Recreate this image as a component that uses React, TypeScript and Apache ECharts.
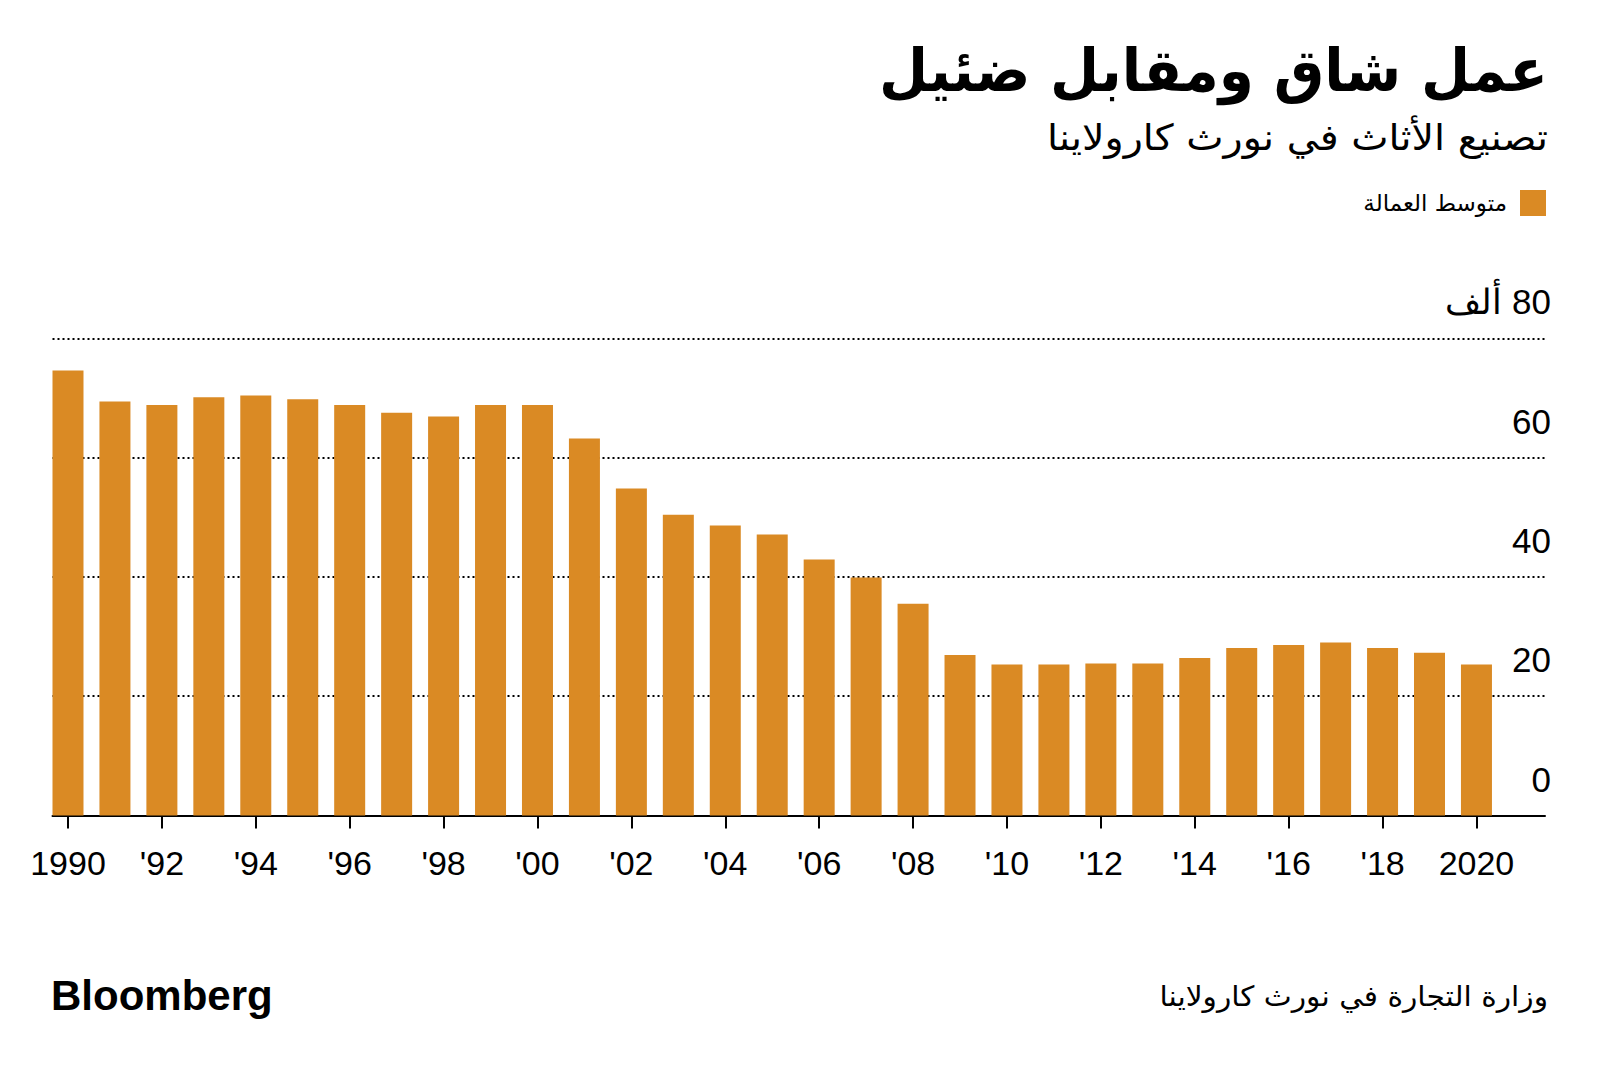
import React, { useEffect, useRef } from "react";
import * as echarts from "echarts";

const years = [
  1990, 1991, 1992, 1993, 1994, 1995, 1996, 1997, 1998, 1999, 2000, 2001, 2002, 2003, 2004, 2005,
  2006, 2007, 2008, 2009, 2010, 2011, 2012, 2013, 2014, 2015, 2016, 2017, 2018, 2019, 2020,
];
const employment = [
  74.6, 69.4, 68.8, 70.1, 70.4, 69.8, 68.8, 67.5, 66.9, 68.8, 68.8, 63.2, 54.8, 50.4, 48.6, 47.1,
  42.9, 39.9, 35.5, 26.9, 25.3, 25.3, 25.5, 25.5, 26.4, 28.1, 28.6, 29.0, 28.1, 27.3, 25.3,
];
const xTickYears = [1990, 1992, 1994, 1996, 1998, 2000, 2002, 2004, 2006, 2008, 2010, 2012, 2014, 2016, 2018, 2020];
const yMax = 80;
const yStep = 20;

const titleText = "عمل شاق ومقابل ضئيل";
const subtitleText = "تصنيع الأثاث في نورث كارولاينا";
const legendLabel = "متوسط العمالة";
const sourceText = "وزارة التجارة في نورث كارولاينا";
const unitLabel = "ألف";
const brandText = "Bloomberg";

const BAR = "#DA8A24";
const ARABIC = "'DejaVu Sans', 'Noto Sans', sans-serif";
const LATIN = "'Liberation Sans', Arial, sans-serif";

export default function App() {
  const ref = useRef<HTMLDivElement>(null);

  useEffect(() => {
    document.body.style.margin = "0";
    const chart = echarts.init(ref.current!, null, { renderer: "svg" });
    const option = {
      animation: false,
      backgroundColor: "#ffffff",
      graphic: [
        {
          type: "text",
          x: 1548,
          y: 70.5,
          scaleX: 0.976,
          scaleY: 1.02,
          style: {
            text: titleText,
            fill: "#000",
            font: `bold 58px ${ARABIC}`,
            textAlign: "right",
            textVerticalAlign: "middle",
          },
        },
        {
          type: "text",
          x: 1548,
          y: 138,
          scaleX: 1.1,
          style: {
            text: subtitleText,
            fill: "#000",
            font: `normal 36px ${ARABIC}`,
            textAlign: "right",
            textVerticalAlign: "middle",
          },
        },
        {
          type: "text",
          x: 1548,
          y: 996,
          scaleX: 1.06,
          style: {
            text: sourceText,
            fill: "#000",
            font: `normal 28px ${ARABIC}`,
            textAlign: "right",
            textVerticalAlign: "middle",
          },
        },
      ],
      title: [
        {
          text: brandText,
          left: 51,
          top: 974,
          padding: 0,
          textStyle: { fontFamily: LATIN, fontWeight: "bold", fontSize: 42, color: "#000" },
        },
      ],
      legend: {
        data: [legendLabel],
        right: 54,
        top: 190,
        padding: 0,
        align: "right",
        icon: "rect",
        itemWidth: 26,
        itemHeight: 26,
        textStyle: { fontFamily: ARABIC, fontSize: 23, color: "#000", padding: [0, 8, 0, 0] },
      },
      grid: { left: 52.5, right: 55, top: 338.3, bottom: 258.5, containLabel: false },
      xAxis: {
        type: "value",
        min: 1989.67,
        max: 2021.46,
        axisLine: { show: true, lineStyle: { color: "#000", width: 2 } },
        axisTick: {
          show: true,
          customValues: xTickYears,
          length: 13,
          lineStyle: { color: "#000", width: 2 },
        },
        splitLine: { show: false },
        axisLabel: {
          customValues: xTickYears,
          margin: 30,
          fontFamily: LATIN,
          fontSize: 34,
          color: "#000",
          formatter: (v: number) =>
            v === xTickYears[0] || v === xTickYears[xTickYears.length - 1]
              ? String(v)
              : "'" + String(v).slice(2),
        },
      },
      yAxis: {
        type: "value",
        position: "right",
        min: 0,
        max: yMax,
        interval: yStep,
        axisLine: { show: false },
        axisTick: { show: false },
        splitLine: { show: true, lineStyle: { color: "#000", width: 2, type: [2, 3] } },
        axisLabel: {
          margin: 6,
          align: "right",
          verticalAlign: "bottom",
          padding: [0, 0, 19, 0],
          fontFamily: LATIN,
          fontSize: 35,
          color: "#000",
          formatter: (v: number) => (v === yMax ? "\u200F" + v + " " + unitLabel : String(v)),
        },
      },
      series: [
        {
          name: legendLabel,
          type: "bar",
          barWidth: 31,
          itemStyle: { color: BAR },
          data: years.map((y, i) => [y, employment[i]]),
        },
      ],
    };
    chart.setOption(option);
    return () => chart.dispose();
  }, []);

  return (
    <div
      ref={ref}
      style={{ position: "absolute", left: 0, top: 0, width: 1600, height: 1074, background: "#fff" }}
    />
  );
}
